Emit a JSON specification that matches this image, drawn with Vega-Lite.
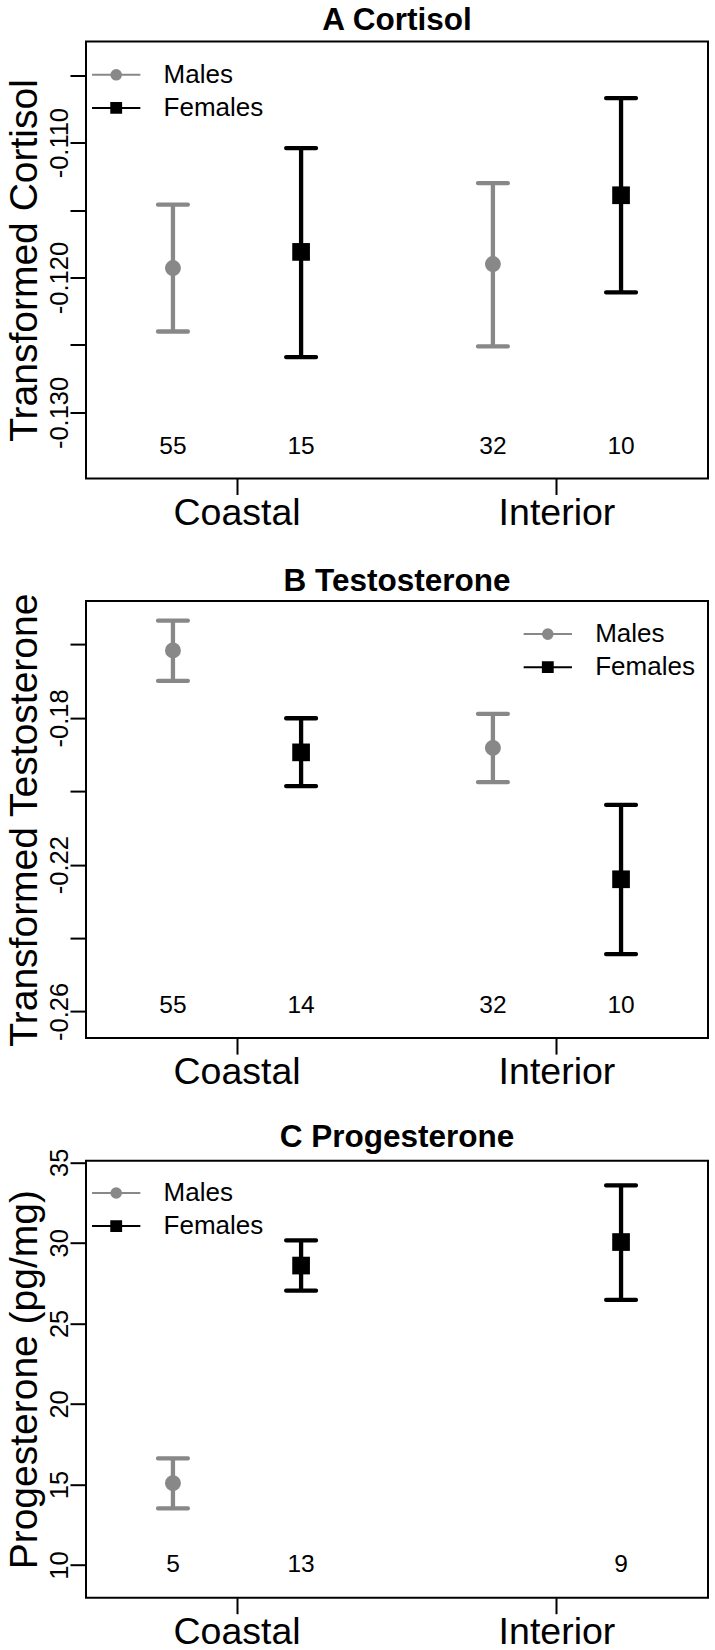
{
  "$schema": "https://vega.github.io/schema/vega-lite/v6.json",
  "autosize": {"type": "pad"},
  "padding": {"left": 3, "top": 3.5, "right": 5, "bottom": 5},
  "background": "white",
  "datasets": {
    "cortisol": [
      {"site": "Coastal", "sex": "Males", "mean": -0.1193, "lower": -0.1240, "upper": -0.1146, "n": 55},
      {"site": "Coastal", "sex": "Females", "mean": -0.1181, "lower": -0.1259, "upper": -0.1104, "n": 15},
      {"site": "Interior", "sex": "Males", "mean": -0.1190, "lower": -0.1251, "upper": -0.1130, "n": 32},
      {"site": "Interior", "sex": "Females", "mean": -0.1139, "lower": -0.1211, "upper": -0.1067, "n": 10}
    ],
    "testosterone": [
      {"site": "Coastal", "sex": "Males", "mean": -0.1616, "lower": -0.1699, "upper": -0.1535, "n": 55},
      {"site": "Coastal", "sex": "Females", "mean": -0.1894, "lower": -0.1986, "upper": -0.1801, "n": 14},
      {"site": "Interior", "sex": "Males", "mean": -0.1882, "lower": -0.1975, "upper": -0.1789, "n": 32},
      {"site": "Interior", "sex": "Females", "mean": -0.2240, "lower": -0.2444, "upper": -0.2037, "n": 10}
    ],
    "progesterone": [
      {"site": "Coastal", "sex": "Males", "mean": 15.08, "lower": 13.51, "upper": 16.62, "n": 5},
      {"site": "Coastal", "sex": "Females", "mean": 28.59, "lower": 27.04, "upper": 30.15, "n": 13},
      {"site": "Interior", "sex": "Females", "mean": 30.05, "lower": 26.46, "upper": 33.57, "n": 9}
    ]
  },
  "vconcat": [
    {
      "width": 622, "height": 437,
      "title": {"text": "A Cortisol", "offset": 5},
      "data": {"name": "cortisol"},
      "encoding": {
        "x": {"field": "site", "type": "nominal", "scale": {"domain": ["Coastal", "Interior"], "paddingInner": 0.199, "paddingOuter": 0.0715},
              "axis": {"title": null, "labelAngle": 0, "labelFontSize": 37.5, "labelBaseline": "alphabetic", "labelPadding": 29.7}},
        "xOffset": {"field": "sex", "type": "nominal", "scale": {"domain": ["Males", "Females"], "paddingInner": 0, "paddingOuter": 0}},
        "color": {"field": "sex", "type": "nominal", "scale": {"domain": ["Males", "Females"], "range": ["#888888", "#000000"]},
                  "legend": {"orient": "none", "legendX": 4.7, "legendY": 20.3, "title": null, "padding": 0, "labelFontSize": 26, "labelColor": "black",
                             "symbolSize": 576, "symbolStrokeWidth": 2, "symbolOffset": 12.5, "labelOffset": 34.4, "rowPadding": 7.1,
                             "encode": {"symbols": {"update": {
                               "shape": {"signal": "datum.value === 'Males' ? 'M-2.0125,0L2.0125,0M-0.4,0A0.4,0.4,0,1,1,0.4,0A0.4,0.4,0,1,1,-0.4,0Z' : 'M-2.0125,0L2.0125,0M-0.41,-0.41L0.41,-0.41L0.41,0.41L-0.41,0.41Z'"},
                               "fill": {"signal": "datum.value === 'Males' ? '#888888' : '#000000'"},
                               "stroke": {"signal": "datum.value === 'Males' ? '#888888' : '#000000'"},
                               "strokeWidth": {"value": 2}, "size": {"value": 576}, "opacity": {"value": 1}}}}}}
      },
      "layer": [
        {"mark": {"type": "rule", "strokeWidth": 4.3},
         "encoding": {"y": {"field": "lower", "type": "quantitative", "scale": {"domain": [-0.1349, -0.1025], "nice": false, "zero": false},
                            "axis": {"title": "Transformed Cortisol", "values": [-0.13, -0.125, -0.12, -0.115, -0.11, -0.105],
                                     "labelExpr": "abs(round(datum.value*1000)) % 10 == 0 ? '-' + format(abs(datum.value), '.3f') : ''",
                                     "labelAngle": 270, "labelAlign": "center", "labelBaseline": "alphabetic", "labelPadding": 3, "labelFontSize": 25.5,
                                     "titleFontSize": 39, "titleAngle": 270, "titleAlign": "center", "titleBaseline": "alphabetic", "titleX": -50, "titleY": 218.5}},
                      "y2": {"field": "upper"}}},
        {"mark": {"type": "tick", "orient": "horizontal", "size": 34, "thickness": 4.3, "cornerRadius": 2, "opacity": 1},
         "encoding": {"y": {"field": "upper", "type": "quantitative"}}},
        {"mark": {"type": "tick", "orient": "horizontal", "size": 34, "thickness": 4.3, "cornerRadius": 2, "opacity": 1},
         "encoding": {"y": {"field": "lower", "type": "quantitative"}}},
        {"mark": {"type": "point", "filled": true, "opacity": 1, "strokeWidth": 0},
         "encoding": {
           "y": {"field": "mean", "type": "quantitative"},
           "shape": {"condition": {"test": "datum.sex === 'Males'", "value": "circle"}, "value": "square"},
           "size": {"condition": {"test": "datum.sex === 'Males'", "value": 254}, "value": 313}
         }},
        {"mark": {"type": "text", "fontSize": 24.5, "baseline": "middle", "color": "black"},
         "encoding": {"y": {"datum": -0.13255}, "text": {"field": "n"}, "color": {"value": "black"}}}
      ]
    },
    {
      "width": 622, "height": 437,
      "title": {"text": "B Testosterone", "offset": -4.5},
      "data": {"name": "testosterone"},
      "encoding": {
        "x": {"field": "site", "type": "nominal", "scale": {"domain": ["Coastal", "Interior"], "paddingInner": 0.199, "paddingOuter": 0.0715},
              "axis": {"title": null, "labelAngle": 0, "labelFontSize": 37.5, "labelBaseline": "alphabetic", "labelPadding": 29.7}},
        "xOffset": {"field": "sex", "type": "nominal", "scale": {"domain": ["Males", "Females"], "paddingInner": 0, "paddingOuter": 0}},
        "color": {"field": "sex", "type": "nominal", "scale": {"domain": ["Males", "Females"], "range": ["#888888", "#000000"]},
                  "legend": {"orient": "none", "legendX": 436.3, "legendY": 20, "title": null, "padding": 0, "labelFontSize": 26, "labelColor": "black",
                             "symbolSize": 576, "symbolStrokeWidth": 2, "symbolOffset": 12.5, "labelOffset": 34.4, "rowPadding": 7.1,
                             "encode": {"symbols": {"update": {
                               "shape": {"signal": "datum.value === 'Males' ? 'M-2.0125,0L2.0125,0M-0.4,0A0.4,0.4,0,1,1,0.4,0A0.4,0.4,0,1,1,-0.4,0Z' : 'M-2.0125,0L2.0125,0M-0.41,-0.41L0.41,-0.41L0.41,0.41L-0.41,0.41Z'"},
                               "fill": {"signal": "datum.value === 'Males' ? '#888888' : '#000000'"},
                               "stroke": {"signal": "datum.value === 'Males' ? '#888888' : '#000000'"},
                               "strokeWidth": {"value": 2}, "size": {"value": 576}, "opacity": {"value": 1}}}}}}
      },
      "layer": [
        {"mark": {"type": "rule", "strokeWidth": 4.3},
         "encoding": {"y": {"field": "lower", "type": "quantitative", "scale": {"domain": [-0.2673, -0.14816], "nice": false, "zero": false},
                            "axis": {"title": "Transformed Testosterone", "values": [-0.26, -0.24, -0.22, -0.2, -0.18, -0.16],
                                     "labelExpr": "(abs(round(datum.value*100)) + 2) % 4 == 0 ? '-' + format(abs(datum.value), '.2f') : ''",
                                     "labelAngle": 270, "labelAlign": "center", "labelBaseline": "alphabetic", "labelPadding": 3, "labelFontSize": 25.5,
                                     "titleFontSize": 39, "titleAngle": 270, "titleAlign": "center", "titleBaseline": "alphabetic", "titleX": -50, "titleY": 218.5}},
                      "y2": {"field": "upper"}}},
        {"mark": {"type": "tick", "orient": "horizontal", "size": 34, "thickness": 4.3, "cornerRadius": 2, "opacity": 1},
         "encoding": {"y": {"field": "upper", "type": "quantitative"}}},
        {"mark": {"type": "tick", "orient": "horizontal", "size": 34, "thickness": 4.3, "cornerRadius": 2, "opacity": 1},
         "encoding": {"y": {"field": "lower", "type": "quantitative"}}},
        {"mark": {"type": "point", "filled": true, "opacity": 1, "strokeWidth": 0},
         "encoding": {
           "y": {"field": "mean", "type": "quantitative"},
           "shape": {"condition": {"test": "datum.sex === 'Males'", "value": "circle"}, "value": "square"},
           "size": {"condition": {"test": "datum.sex === 'Males'", "value": 254}, "value": 313}
         }},
        {"mark": {"type": "text", "fontSize": 24.5, "baseline": "middle", "color": "black"},
         "encoding": {"y": {"datum": -0.2585}, "text": {"field": "n"}, "color": {"value": "black"}}}
      ]
    },
    {
      "width": 622, "height": 437,
      "title": {"text": "C Progesterone", "offset": -5.5},
      "data": {"name": "progesterone"},
      "encoding": {
        "x": {"field": "site", "type": "nominal", "scale": {"domain": ["Coastal", "Interior"], "paddingInner": 0.199, "paddingOuter": 0.0715},
              "axis": {"title": null, "labelAngle": 0, "labelFontSize": 37.5, "labelBaseline": "alphabetic", "labelPadding": 29.7}},
        "xOffset": {"field": "sex", "type": "nominal", "scale": {"domain": ["Males", "Females"], "paddingInner": 0, "paddingOuter": 0}},
        "color": {"field": "sex", "type": "nominal", "scale": {"domain": ["Males", "Females"], "range": ["#888888", "#000000"]},
                  "legend": {"orient": "none", "legendX": 4.7, "legendY": 19.3, "title": null, "padding": 0, "labelFontSize": 26, "labelColor": "black",
                             "symbolSize": 576, "symbolStrokeWidth": 2, "symbolOffset": 12.5, "labelOffset": 34.4, "rowPadding": 7.1,
                             "encode": {"symbols": {"update": {
                               "shape": {"signal": "datum.value === 'Males' ? 'M-2.0125,0L2.0125,0M-0.4,0A0.4,0.4,0,1,1,0.4,0A0.4,0.4,0,1,1,-0.4,0Z' : 'M-2.0125,0L2.0125,0M-0.41,-0.41L0.41,-0.41L0.41,0.41L-0.41,0.41Z'"},
                               "fill": {"signal": "datum.value === 'Males' ? '#888888' : '#000000'"},
                               "stroke": {"signal": "datum.value === 'Males' ? '#888888' : '#000000'"},
                               "strokeWidth": {"value": 2}, "size": {"value": 576}, "opacity": {"value": 1}}}}}}
      },
      "layer": [
        {"mark": {"type": "rule", "strokeWidth": 4.3},
         "encoding": {"y": {"field": "lower", "type": "quantitative", "scale": {"domain": [7.97, 35.1], "nice": false, "zero": false},
                            "axis": {"title": "Progesterone (pg/mg)", "values": [10, 15, 20, 25, 30, 35],
                                     "labelAngle": 270, "labelAlign": "center", "labelBaseline": "alphabetic", "labelPadding": 3, "labelFontSize": 25.5,
                                     "titleFontSize": 39, "titleAngle": 270, "titleAlign": "center", "titleBaseline": "alphabetic", "titleX": -50, "titleY": 218.5}},
                      "y2": {"field": "upper"}}},
        {"mark": {"type": "tick", "orient": "horizontal", "size": 34, "thickness": 4.3, "cornerRadius": 2, "opacity": 1},
         "encoding": {"y": {"field": "upper", "type": "quantitative"}}},
        {"mark": {"type": "tick", "orient": "horizontal", "size": 34, "thickness": 4.3, "cornerRadius": 2, "opacity": 1},
         "encoding": {"y": {"field": "lower", "type": "quantitative"}}},
        {"mark": {"type": "point", "filled": true, "opacity": 1, "strokeWidth": 0},
         "encoding": {
           "y": {"field": "mean", "type": "quantitative"},
           "shape": {"condition": {"test": "datum.sex === 'Males'", "value": "circle"}, "value": "square"},
           "size": {"condition": {"test": "datum.sex === 'Males'", "value": 254}, "value": 313}
         }},
        {"mark": {"type": "text", "fontSize": 24.5, "baseline": "middle", "color": "black"},
         "encoding": {"y": {"datum": 10.0}, "text": {"field": "n"}, "color": {"value": "black"}}}
      ]
    }
  ],
  "spacing": 122.6,
  "bounds": "flush",
  "resolve": {
    "scale": {"x": "independent", "y": "independent", "xOffset": "independent", "color": "independent"},
    "legend": {"color": "independent"}
  },
  "config": {
    "font": "Liberation Sans",
    "view": {"stroke": "black", "strokeWidth": 2},
    "axis": {"domain": false, "grid": false, "ticks": true, "tickColor": "black", "tickWidth": 2, "tickSize": 16,
             "labelColor": "black", "titleColor": "black", "labelFont": "Liberation Sans", "titleFont": "Liberation Sans",
             "labelFlush": false, "labelOverlap": false, "titleFontWeight": "normal"},
    "legend": {"labelFont": "Liberation Sans"},
    "title": {"font": "Liberation Sans", "fontSize": 31.5, "fontWeight": "bold", "color": "black", "anchor": "middle", "frame": "group", "baseline": "alphabetic"}
  }
}
